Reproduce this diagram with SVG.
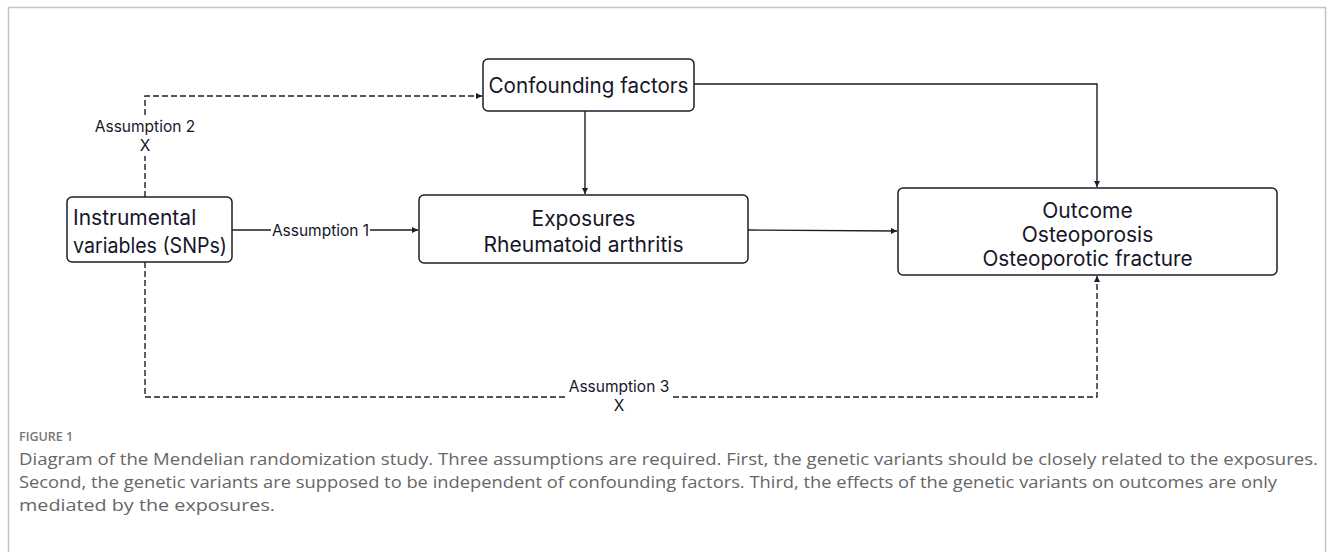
<svg xmlns="http://www.w3.org/2000/svg" width="1333" height="552" viewBox="0 0 1333 552">
<style>
.box{fill:#fff;stroke:#1c1c2b;stroke-width:1.5}
.t{font-family:Inter,"Liberation Sans",sans-serif;font-size:21px;fill:#16162a}
.lbl{font-family:Inter,"Liberation Sans",sans-serif;font-size:15.5px;fill:#16162a}
.ln{fill:none;stroke:#1c1c2b;stroke-width:1.4}
.dl{fill:none;stroke:#1c1c2b;stroke-width:1.4;stroke-dasharray:6 3}
.cap{font-family:"Open Sans","Liberation Sans",sans-serif;font-size:17px;fill:#666}
.fig{font-family:"Open Sans","Liberation Sans",sans-serif;font-size:12.5px;font-weight:600;fill:#777}
</style>
<defs>
<marker id="ah" viewBox="0 0 8 8" refX="8" refY="4" markerWidth="6" markerHeight="6" markerUnits="userSpaceOnUse" orient="auto">
<path d="M0,0 L8,4 L0,8 z" fill="#1c1c2b"/>
</marker>
</defs>
<rect x="8.5" y="7.5" width="1317" height="560" fill="#fff" stroke="#c4c4c4" stroke-width="1.5"/>
<g id="connectors">
<path class="ln" d="M232,230 H271"/>
<path class="ln" d="M370,230 H418" marker-end="url(#ah)"/>
<path class="ln" d="M748,230 L897,231" marker-end="url(#ah)"/>
<path class="ln" d="M585,111 V194" marker-end="url(#ah)"/>
<path class="ln" d="M694,84 H1097 V187" marker-end="url(#ah)"/>
<path class="dl" d="M145,197 V156"/>
<path class="dl" d="M145,115 V96 H482" marker-end="url(#ah)"/>
<path class="dl" d="M145,262 V397 H565"/>
<path class="dl" d="M673,397 H1097 V276" marker-end="url(#ah)"/>
<text class="lbl" x="320.5" y="235.5" text-anchor="middle">Assumption 1</text>
<text class="lbl" x="145" y="131.5" text-anchor="middle">Assumption 2</text>
<text class="lbl" x="145" y="150.5" text-anchor="middle">X</text>
<text class="lbl" x="619" y="392" text-anchor="middle">Assumption 3</text>
<text class="lbl" x="619" y="410.5" text-anchor="middle">X</text>
</g>
<g id="confounding">
<rect class="box" x="483" y="59" width="211" height="52" rx="5"/>
<text class="t" x="588.5" y="92.5" text-anchor="middle" textLength="200" lengthAdjust="spacingAndGlyphs">Confounding factors</text>
</g>
<g id="instrumental">
<rect class="box" x="67" y="197" width="165" height="65" rx="5"/>
<text class="t" x="73" y="224.5" font-size="20">Instrumental</text>
<text class="t" x="73" y="252.5" font-size="20" textLength="154" lengthAdjust="spacingAndGlyphs">variables (SNPs)</text>
</g>
<g id="exposures">
<rect class="box" x="419" y="195" width="329" height="68" rx="5"/>
<text class="t" x="583.5" y="226" text-anchor="middle">Exposures</text>
<text class="t" x="583.5" y="252" text-anchor="middle" textLength="200" lengthAdjust="spacingAndGlyphs">Rheumatoid arthritis</text>
</g>
<g id="outcome">
<rect class="box" x="898" y="188" width="379" height="87" rx="5"/>
<text class="t" x="1087.5" y="218" text-anchor="middle">Outcome</text>
<text class="t" x="1087.5" y="242" text-anchor="middle">Osteoporosis</text>
<text class="t" x="1087.5" y="266" text-anchor="middle" textLength="210" lengthAdjust="spacingAndGlyphs">Osteoporotic fracture</text>
</g>
<g id="caption">
<text class="fig" x="19" y="441">FIGURE 1</text>
<text class="cap" x="19" y="465" textLength="1299" lengthAdjust="spacingAndGlyphs">Diagram of the Mendelian randomization study. Three assumptions are required. First, the genetic variants should be closely related to the exposures.</text>
<text class="cap" x="19" y="488" textLength="1258" lengthAdjust="spacingAndGlyphs">Second, the genetic variants are supposed to be independent of confounding factors. Third, the effects of the genetic variants on outcomes are only</text>
<text class="cap" x="19" y="511" textLength="256" lengthAdjust="spacingAndGlyphs">mediated by the exposures.</text>
</g>
</svg>
